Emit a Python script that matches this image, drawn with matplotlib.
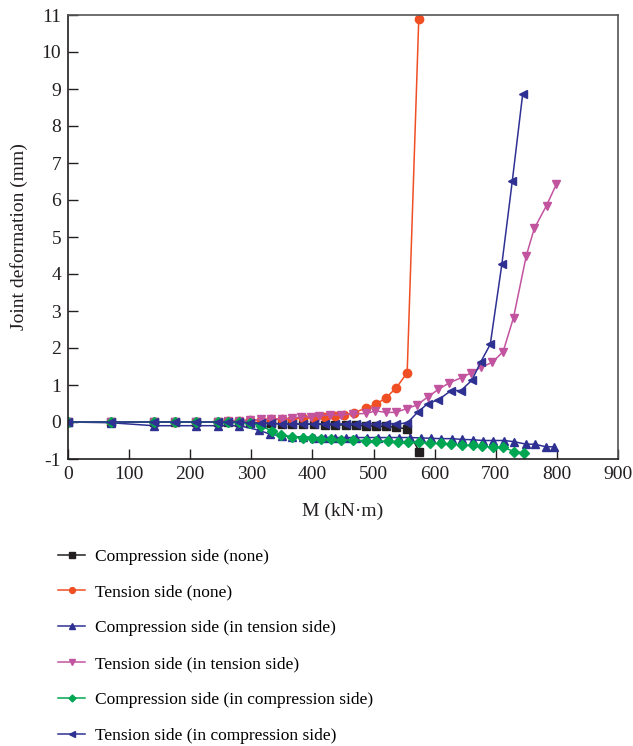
import matplotlib
matplotlib.use("Agg")
import matplotlib.pyplot as plt

plt.rcParams['font.family'] = ['Liberation Serif', 'DejaVu Serif']
plt.rcParams['axes.unicode_minus'] = False

# --- dados ---
x_comp_none = [0, 70, 140, 175, 210, 245, 262, 280, 297, 315, 332, 350, 367, 385, 402,
               420, 437, 455, 472, 488, 504, 520, 537, 555, 575]
y_comp_none = [0, 0, 0, 0, 0, 0, 0, 0, -0.02, -0.03, -0.04, -0.05, -0.05, -0.06, -0.06,
               -0.07, -0.08, -0.08, -0.09, -0.10, -0.11, -0.12, -0.14, -0.19, -0.81]

x_tens_none = [0, 70, 140, 175, 210, 245, 262, 280, 297, 315, 332, 350, 367, 385, 402,
               420, 437, 452, 468, 488, 504, 520, 537, 555, 574]
y_tens_none = [0, 0, 0, 0, 0, 0.01, 0.02, 0.03, 0.05, 0.06, 0.07, 0.08, 0.09, 0.10, 0.11,
               0.13, 0.15, 0.20, 0.25, 0.38, 0.48, 0.65, 0.92, 1.33, 10.9]

x_comp_ts = [0, 70, 140, 210, 245, 280, 312, 331, 350, 367, 385, 402, 420, 437, 455, 472,
             490, 507, 525, 542, 560, 577, 594, 610, 628, 644, 662, 679, 696, 713, 729,
             750, 764, 782, 796]
y_comp_ts = [0, -0.02, -0.10, -0.10, -0.10, -0.10, -0.22, -0.33, -0.38, -0.40, -0.40,
             -0.42, -0.42, -0.42, -0.42, -0.42, -0.42, -0.42, -0.42, -0.42, -0.42, -0.43,
             -0.44, -0.45, -0.45, -0.47, -0.48, -0.50, -0.50, -0.50, -0.53, -0.60, -0.60,
             -0.67, -0.67]

x_tens_ts = [0, 70, 140, 175, 210, 245, 262, 280, 297, 315, 332, 350, 367, 381, 398, 411,
             428, 446, 466, 488, 503, 520, 536, 554, 571, 589, 606, 624, 644, 660, 676,
             694, 712, 729, 750, 763, 783, 799]
y_tens_ts = [0, 0, 0, 0, 0, 0.01, 0.02, 0.03, 0.05, 0.07, 0.08, 0.09, 0.10, 0.14, 0.14,
             0.17, 0.19, 0.19, 0.22, 0.23, 0.30, 0.26, 0.26, 0.36, 0.46, 0.68, 0.88, 1.06,
             1.20, 1.33, 1.48, 1.61, 1.90, 2.82, 4.50, 5.23, 5.85, 6.42]

x_comp_cs = [0, 70, 140, 175, 210, 245, 262, 280, 297, 315, 333, 349, 367, 384, 400, 414,
             430, 447, 466, 488, 504, 524, 540, 557, 575, 593, 610, 627, 644, 662, 678,
             695, 712, 730, 746]
y_comp_cs = [0, 0, 0, 0, 0, 0, 0, 0, -0.03, -0.10, -0.24, -0.35, -0.40, -0.42, -0.44,
             -0.46, -0.47, -0.48, -0.49, -0.50, -0.51, -0.52, -0.53, -0.54, -0.55, -0.57,
             -0.58, -0.60, -0.61, -0.63, -0.65, -0.68, -0.68, -0.80, -0.83]

x_tens_cs = [0, 70, 140, 175, 210, 245, 262, 280, 297, 315, 332, 350, 367, 385, 402, 420,
             437, 455, 472, 488, 504, 520, 537, 555, 573, 589, 606, 627, 643, 661, 675,
             691, 710, 727, 744]
y_tens_cs = [0, 0, 0, 0, 0, 0, 0, 0, -0.02, -0.03, -0.04, -0.05, -0.05, -0.05, -0.05,
             -0.05, -0.05, -0.05, -0.05, -0.05, -0.05, -0.05, -0.05, -0.03, 0.28, 0.50,
             0.60, 0.85, 0.85, 1.13, 1.61, 2.10, 4.27, 6.51, 8.86]

series = [
    (x_comp_none, y_comp_none, '#231f20', 's', 'Compression side (none)'),
    (x_tens_none, y_tens_none, '#f04e23', 'o', 'Tension side (none)'),
    (x_comp_ts, y_comp_ts, '#2e3192', '^', 'Compression side (in tension side)'),
    (x_tens_ts, y_tens_ts, '#c2549f', 'v', 'Tension side (in tension side)'),
    (x_comp_cs, y_comp_cs, '#00a651', 'D', 'Compression side (in compression side)'),
    (x_tens_cs, y_tens_cs, '#2e3192', '<', 'Tension side (in compression side)'),
]

fig = plt.figure(figsize=(6.33, 7.46), dpi=100)
ax = fig.add_axes([68 / 633, 1 - 459 / 746, 550 / 633, 444 / 746])

for xs, ys, cor, mk, nome in series:
    ms = 5 if mk == 'D' else 6
    ax.plot(xs, ys, color=cor, marker=mk, markersize=ms, linewidth=1.1, label=nome)

ax.set_xlim(0, 900)
ax.set_ylim(-1, 11)
ax.set_xticks(range(0, 901, 100))
ax.set_yticks(range(-1, 12))
ax.tick_params(direction='in', length=7, width=1, labelsize=14, colors='#231f20',
               top=False, right=False, pad=5)
for s in ax.spines.values():
    s.set_color('#555555')
    s.set_linewidth(1.2)
ax.spines['left'].set_color('#231f20')
ax.spines['bottom'].set_color('#231f20')

ax.set_xlabel('M (kN·m)', fontsize=14, color='#231f20', labelpad=14)
ax.set_ylabel('Joint deformation (mm)', fontsize=14, color='#231f20', labelpad=10)

handles, labels = ax.get_legend_handles_labels()
fig.legend(handles, labels, loc='upper left', bbox_to_anchor=(42 / 633, 1 - 533 / 746),
           frameon=False, fontsize=12.5, handlelength=1.6, handletextpad=0.57,
           labelspacing=1.13, markerscale=0.7)

fig.savefig('out.png', dpi=100)
